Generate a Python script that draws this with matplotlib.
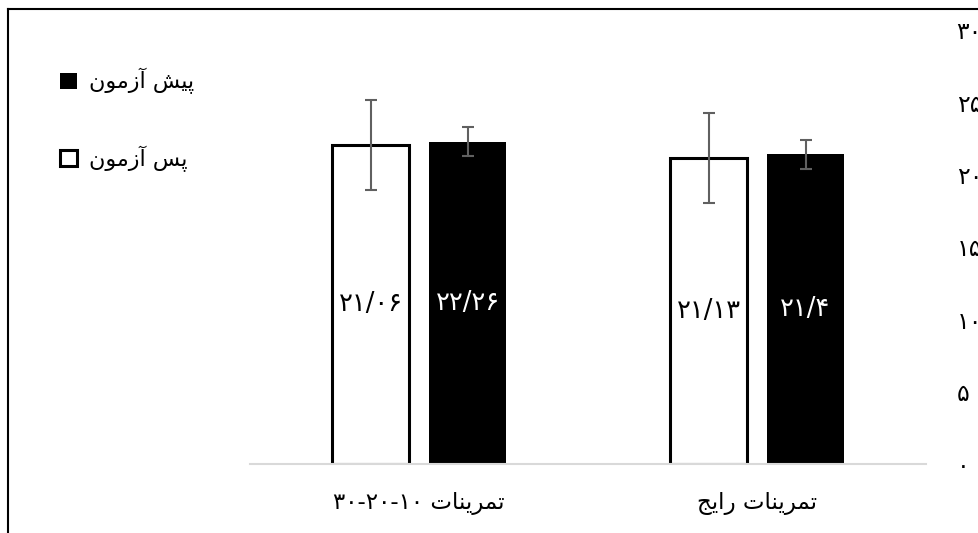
import re
import matplotlib
matplotlib.use("Agg")
import matplotlib.pyplot as plt
from matplotlib.lines import Line2D

# data
categories = ["تمرینات ۱۰-۲۰-۳۰", "تمرینات رایج"]
series_names = ["پیش آزمون", "پس آزمون"]
pre_mean = [22.26, 21.40]
post_mean = [22.06, 21.13]
pre_err = [1.0, 1.0]
post_err = [3.1, 3.1]
pre_labels = ["22/26", "21/4"]
post_labels = ["21/06", "21/13"]
y_ticks = [0, 5, 10, 15, 20, 25, 30]

FA_DIGITS = str.maketrans("0123456789", "۰۱۲۳۴۵۶۷۸۹")

# contextual forms: isolated, final, initial, medial
FORMS = {
    "ا": "\uFE8D\uFE8E", "آ": "\uFE81\uFE82", "ر": "\uFEAD\uFEAE",
    "ز": "\uFEAF\uFEB0", "و": "\uFEED\uFEEE",
    "پ": "\uFB56\uFB57\uFB58\uFB59", "ی": "\uFBFC\uFBFD\uFBFE\uFBFF",
    "ش": "\uFEB5\uFEB6\uFEB7\uFEB8", "س": "\uFEB1\uFEB2\uFEB3\uFEB4",
    "م": "\uFEE1\uFEE2\uFEE3\uFEE4", "ن": "\uFEE5\uFEE6\uFEE7\uFEE8",
    "ت": "\uFE95\uFE96\uFE97\uFE98", "ج": "\uFE9D\uFE9E\uFE9F\uFEA0",
}


def rtl(text):
    out = []
    for i, ch in enumerate(text):
        f = FORMS.get(ch)
        if f is None:
            out.append(ch)
            continue
        prev = text[i - 1] if i > 0 else ""
        nxt = text[i + 1] if i + 1 < len(text) else ""
        jp = prev in FORMS and len(FORMS[prev]) == 4
        jn = len(f) == 4 and nxt in FORMS
        idx = 3 if (jp and jn) else 1 if jp else 2 if jn else 0
        out.append(f[idx])
    runs = re.findall(r"[۰-۹0-9/]+|.", "".join(out))
    return "".join(reversed(runs))


plt.rcParams["font.family"] = ["DejaVu Sans"]

fig = plt.figure(figsize=(9.79, 5.33), dpi=100)
ax = fig.add_axes([0.2554, 0.1295, 0.6905, 0.8143])

x = [0, 1]
w = 0.228
off = 0.1435
err_kw = dict(ecolor="#606060", elinewidth=1.5, capsize=4.3, capthick=1.5)

b_post = ax.bar([i - off for i in x], post_mean, w, yerr=post_err,
                color="white", edgecolor="black", linewidth=2.2,
                error_kw=err_kw, label=rtl(series_names[1]))
b_pre = ax.bar([i + off for i in x], pre_mean, w, yerr=pre_err,
               color="black", edgecolor="black", linewidth=0,
               error_kw=err_kw, label=rtl(series_names[0]))

for i in x:
    ax.text(i - off, post_mean[i] / 2, post_labels[i].translate(FA_DIGITS),
            ha="center", va="center", fontsize=18.5, color="black")
    ax.text(i + off, pre_mean[i] / 2, pre_labels[i].translate(FA_DIGITS),
            ha="center", va="center", fontsize=18.5, color="white")

ax.set_xlim(-0.5, 1.5)
ax.set_ylim(0, 30)
ax.set_xticks(x, [rtl(c) for c in categories], fontsize=16.5)
ax.set_yticks(y_ticks, [str(t).translate(FA_DIGITS) for t in y_ticks], fontsize=17)
ax.yaxis.tick_right()
ax.tick_params(axis="y", length=0, pad=22)
ax.tick_params(axis="x", length=0, pad=20)
for s in ["top", "left", "right"]:
    ax.spines[s].set_visible(False)
ax.spines["bottom"].set_color("#d9d9d9")
ax.spines["bottom"].set_linewidth(1.5)
ax.spines["bottom"].set_zorder(3)

fig.legend(handles=[b_pre, b_post], loc="upper left",
           bbox_to_anchor=(60 / 979, 1 - 68 / 533), borderaxespad=0,
           borderpad=0, frameon=False, fontsize=16, handlelength=0.75,
           handleheight=0.75, handletextpad=0.55, labelspacing=2.3)

# outer chart frame (left and top edges visible)
fig.add_artist(Line2D([8 / 979, 8 / 979], [0, 1 - 9 / 533],
                      transform=fig.transFigure, color="black", lw=1.5))
fig.add_artist(Line2D([8 / 979, 1], [1 - 9 / 533, 1 - 9 / 533],
                      transform=fig.transFigure, color="black", lw=1.5))

fig.savefig("out.png", dpi=100)
plt.close(fig)
